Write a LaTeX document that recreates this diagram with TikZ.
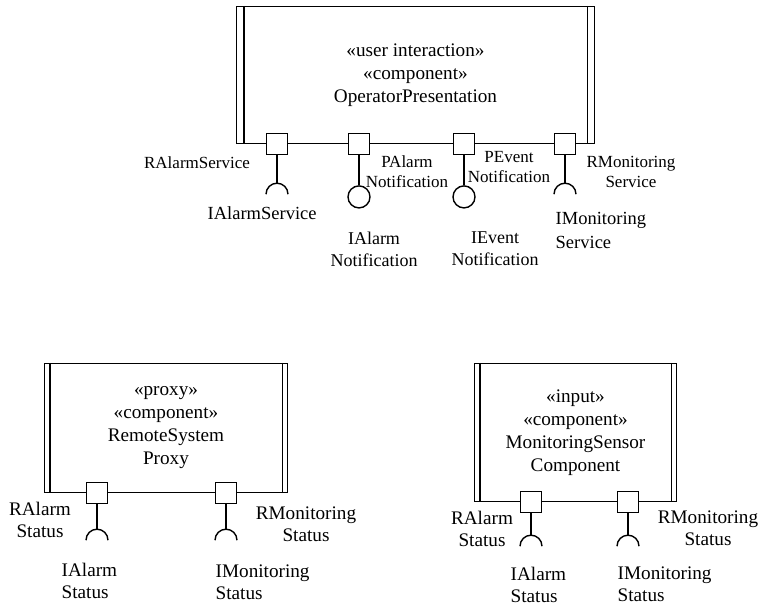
\documentclass[tikz,border=0pt]{standalone}
\usepackage{fontspec}
\setmainfont{Liberation Serif}
\usetikzlibrary{positioning, calc}

\begin{document}
\begin{tikzpicture}[x=1pt, y=-1pt, node distance=28pt, line width=1.4pt]
    \tikzstyle{comp} = [rectangle, draw, align=center, font=\fontsize{19.2}{23}\selectfont]
    \tikzstyle{port} = [rectangle, draw, fill=white, minimum size=21pt, inner sep=0pt]
    \tikzstyle{ball} = [circle, draw, minimum size=22pt, inner sep=0pt]
    \tikzstyle{plabel} = [align=center, inner sep=0pt, font=\fontsize{17}{20}\selectfont]
    \tikzstyle{clabel} = [align=center, inner sep=0pt, font=\fontsize{18}{22}\selectfont]
    \tikzstyle{ilabel} = [align=left, anchor=west, inner sep=0pt, font=\fontsize{18.5}{24}\selectfont]
    \tikzstyle{blabel} = [align=center, inner sep=0pt, font=\fontsize{19.2}{22}\selectfont]
    \tikzstyle{bilabel} = [blabel, align=left, anchor=west]

    \useasboundingbox (0,0) rectangle (760,607);

    % components
    \node [comp, minimum width=358pt, minimum height=137pt] (op) at (415.5,75) {«user interaction»\\«component»\\OperatorPresentation};
    \node [comp, minimum width=243pt, minimum height=129pt] (rsp) at (166,428) {«proxy»\\«component»\\RemoteSystem\\Proxy};
    \node [comp, minimum width=202pt, minimum height=138pt] (msc) at (575.5,432.5) {«input»\\«component»\\MonitoringSensor\\Component};

    \draw ([xshift=8pt]op.north west) -- ([xshift=8pt]op.south west);
    \draw ([xshift=-8pt]op.north east) -- ([xshift=-8pt]op.south east);
    \draw ([xshift=6pt]rsp.north west) -- ([xshift=6pt]rsp.south west);
    \draw ([xshift=-6pt]rsp.north east) -- ([xshift=-6pt]rsp.south east);
    \draw ([xshift=6pt]msc.north west) -- ([xshift=6pt]msc.south west);
    \draw ([xshift=-6pt]msc.north east) -- ([xshift=-6pt]msc.south east);

    % ports
    \node [port] (p1) at (277,144) {};
    \node [port] (p2) at (359,144) {};
    \node [port] (p3) at (464,144) {};
    \node [port] (p4) at (565,144) {};
    \node [port] (q1) at (97,493) {};
    \node [port] (q2) at (226,493) {};
    \node [port] (r1) at (531,502) {};
    \node [port] (r2) at (628,502) {};

    % provided and required interfaces
    \coordinate [below=28pt of p1] (s1);
    \node [ball, below=30pt of p2] (b2) {};
    \node [ball, below=30pt of p3] (b3) {};
    \coordinate [below=28pt of p4] (s4);
    \coordinate [below=25pt of q1] (t1);
    \coordinate [below=25pt of q2] (t2);
    \coordinate [below=22pt of r1] (u1);
    \coordinate [below=22pt of r2] (u2);

    \draw (p1) -- (s1);
    \draw (p2) -- (b2);
    \draw (p3) -- (b3);
    \draw (p4) -- (s4);
    \draw (q1) -- (t1);
    \draw (q2) -- (t2);
    \draw (r1) -- (u1);
    \draw (r2) -- (u2);
    \foreach \s in {s1, s4, t1, t2, u1, u2}
        \draw ([xshift=-11pt, yshift=-11pt]\s) arc (180:0:11pt);

    % labels
    \node [plabel] (lras) at (197,163) {RAlarmService};
    \node [ilabel] (lias) at (207,213) {IAlarmService};
    \node [plabel] (lpan) at (407,172) {PAlarm\\Notification};
    \node [plabel] (lpen) at (509,167) {PEvent\\Notification};
    \node [plabel] (lrms) at (631,172) {RMonitoring\\Service};
    \node [clabel] (lian) at (374,249) {IAlarm\\Notification};
    \node [clabel] (lien) at (495,249) {IEvent\\Notification};
    \node [ilabel] (lims) at (555,230) {IMonitoring\\Service};

    \node [blabel] (lqras) at (40,519.5) {RAlarm\\Status};
    \node [blabel] (lqrms) at (306,524) {RMonitoring\\Status};
    \node [bilabel] (lqias) at (61,580.5) {IAlarm\\Status};
    \node [bilabel] (lqims) at (215,582.5) {IMonitoring\\Status};

    \node [blabel] (lrras) at (482,528.5) {RAlarm\\Status};
    \node [blabel] (lrrms) at (708,528.5) {RMonitoring\\Status};
    \node [bilabel] (lrias) at (510,585) {IAlarm\\Status};
    \node [bilabel] (lrims) at (617,584) {IMonitoring\\Status};
\end{tikzpicture}
\end{document}
